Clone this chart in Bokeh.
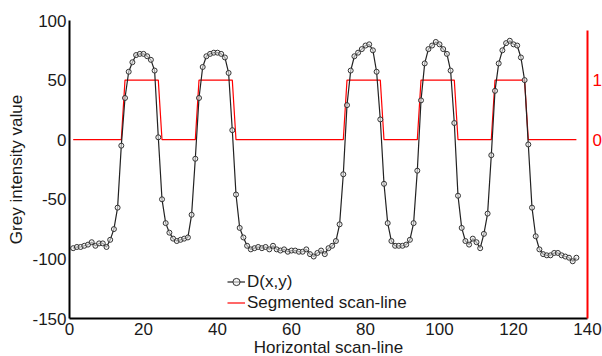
from bokeh.plotting import figure
from bokeh.models import (Range1d, LinearAxis, FixedTicker, Legend, LegendItem,
                          CustomJSTickFormatter)
from bokeh.embed import file_html
from bokeh.resources import INLINE

# ---- data ----
x_index = list(range(1, 138))
d_values = [
    -91, -90, -90, -89, -88, -86, -89, -87, -87, -90,
    -84, -75, -57, -5, 35, 57, 65, 71, 72, 72,
    70, 67, 58, 2, -50, -70, -78, -83, -85, -84,
    -83, -82, -63, -16, 35, 61, 70, 72, 73, 73,
    72, 69, 56, 8, -46, -74, -82, -89, -92, -91,
    -90, -91, -90, -92, -89, -92, -93, -92, -94, -93,
    -93, -94, -94, -92, -96, -98, -95, -93, -96, -91,
    -89, -85, -71, -29, 29, 58, 70, 73, 76, 79,
    80, 75, 57, 17, -37, -70, -85, -89, -89, -89,
    -88, -84, -70, -26, 33, 64, 76, 79, 82, 80,
    76, 72, 58, 14, -47, -74, -85, -88, -83, -86,
    -91, -79, -62, -13, 41, 64, 75, 81, 83, 80,
    79, 69, 50, -4, -57, -81, -92, -96, -97, -97,
    -95, -95, -97, -98, -99, -102, -99,
]
seg_values = [
    0, 0, 0, 0, 0, 0, 0, 0, 0, 0,
    0, 0, 0, 0, 1, 1, 1, 1, 1, 1,
    1, 1, 1, 1, 0, 0, 0, 0, 0, 0,
    0, 0, 0, 0, 1, 1, 1, 1, 1, 1,
    1, 1, 1, 1, 0, 0, 0, 0, 0, 0,
    0, 0, 0, 0, 0, 0, 0, 0, 0, 0,
    0, 0, 0, 0, 0, 0, 0, 0, 0, 0,
    0, 0, 0, 0, 1, 1, 1, 1, 1, 1,
    1, 1, 1, 1, 0, 0, 0, 0, 0, 0,
    0, 0, 0, 0, 1, 1, 1, 1, 1, 1,
    1, 1, 1, 1, 0, 0, 0, 0, 0, 0,
    0, 0, 0, 0, 1, 1, 1, 1, 1, 1,
    1, 1, 1, 0, 0, 0, 0, 0, 0, 0,
    0, 0, 0, 0, 0, 0, 0,
]
x_ticks = [0, 20, 40, 60, 80, 100, 120, 140]
y_ticks = [-150, -100, -50, 0, 50, 100]
seg_ticks = [0, 1]

FONT = "Liberation Sans"
FS = "17px"
TXT = "#1a1a1a"

p = figure(frame_width=518, frame_height=298,
           x_range=Range1d(0, 140), y_range=Range1d(-150, 100),
           output_backend="svg", toolbar_location=None,
           min_border_left=69, min_border_right=15,
           min_border_top=20, min_border_bottom=38)
p.outline_line_color = None
p.grid.visible = False
p.extra_y_ranges = {"seg": Range1d(-3, 2)}

red_r = p.line(x_index, seg_values, y_range_name="seg", line_color="#ff0000", line_width=1.2)
line_r = p.line(x_index, d_values, line_color="#222222", line_width=1.2)
pts_r = p.scatter(x_index, d_values, size=5, marker="circle",
                  line_color="#333333", line_width=1, fill_color="#eeeeee", fill_alpha=0.6)

plain = CustomJSTickFormatter(code="return String(tick);")
for ax in (p.xaxis[0], p.yaxis[0]):
    ax.axis_line_width = 2
    ax.axis_line_color = "black"
    ax.major_tick_in = 0
    ax.major_tick_out = 0
    ax.minor_tick_in = 0
    ax.minor_tick_out = 0
    ax.major_label_text_font = FONT
    ax.major_label_text_font_size = FS
    ax.major_label_text_color = TXT
    ax.axis_label_text_font = FONT
    ax.axis_label_text_font_size = FS
    ax.axis_label_text_font_style = "normal"
    ax.axis_label_text_color = TXT
    ax.formatter = plain

p.xaxis.ticker = FixedTicker(ticks=x_ticks)
p.yaxis.ticker = FixedTicker(ticks=y_ticks)
p.yaxis.axis_label = "Grey intensity value"
p.xaxis.axis_label = "Horizontal scan-line"
p.xaxis.major_label_text_line_height = 1.0
p.xaxis.axis_label_text_line_height = 1.0
p.xaxis.major_label_standoff = 4
p.xaxis.axis_label_standoff = 0
p.yaxis.major_label_standoff = 3
p.yaxis.axis_label_standoff = 3

rax = LinearAxis(y_range_name="seg", ticker=FixedTicker(ticks=seg_ticks), bounds=(-3, 1.83))
rax.axis_line_color = "#ff0000"
rax.axis_line_width = 2
rax.major_tick_in = 0
rax.major_tick_out = 0
rax.minor_tick_in = 0
rax.minor_tick_out = 0
rax.major_label_text_color = "#ff0000"
rax.major_label_text_font = FONT
rax.major_label_text_font_size = FS
rax.major_label_standoff = 5
p.add_layout(rax, "right")

legend = Legend(items=[LegendItem(label="D(x,y)", renderers=[line_r, pts_r]),
                       LegendItem(label="Segmented scan-line", renderers=[red_r])],
                location=(158, 5))
legend.border_line_color = None
legend.background_fill_alpha = 0
legend.padding = 0
legend.margin = 0
legend.spacing = 0
legend.glyph_width = 18
legend.glyph_height = 21
legend.label_height = 21
legend.label_standoff = 2
legend.label_text_font = FONT
legend.label_text_font_size = FS
legend.label_text_color = TXT
p.add_layout(legend)

open("out.html", "w").write(file_html(p, INLINE))
